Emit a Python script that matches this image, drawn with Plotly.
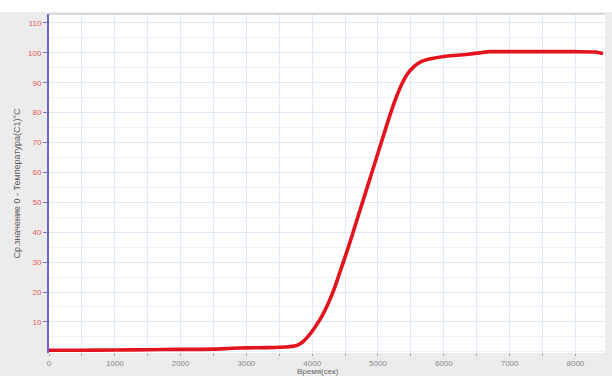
import plotly.graph_objects as go

# Temperature log: time in seconds, temperature in °C
time_s = [0, 500, 1000, 1500, 2000, 2500, 2800, 3000, 3300, 3600, 3750, 3850,
          3950, 4050, 4150, 4250, 4350, 4450, 4550, 4650, 4750, 4850, 4950,
          5050, 5150, 5250, 5350, 5450, 5550, 5650, 5800, 6000, 6200, 6400,
          6550, 6700, 7000, 7500, 8000, 8300, 8420]
temp_c = [0.5, 0.5, 0.6, 0.7, 0.8, 0.9, 1.2, 1.3, 1.4, 1.6, 2.0, 3.2,
          5.5, 8.5, 12.0, 16.5, 22.0, 28.5, 35.0, 42.0, 49.0, 56.0, 63.0,
          70.0, 77.0, 83.5, 89.0, 93.0, 95.5, 97.0, 98.0, 98.8, 99.2, 99.6,
          100.0, 100.4, 100.4, 100.4, 100.4, 100.3, 99.8]

x_ticks = [0, 1000, 2000, 3000, 4000, 5000, 6000, 7000, 8000]
y_ticks = [10, 20, 30, 40, 50, 60, 70, 80, 90, 100, 110]

W, H = 612, 376
ML, MR, MT, MB = 49, 7, 14, 23
plot_w = W - ML - MR
plot_h = H - MT - MB

fig = go.Figure()
fig.add_trace(go.Scatter(
    x=time_s, y=temp_c, mode="lines",
    line=dict(color="#e4141e", width=3.6, shape="spline", smoothing=0.6),
    hoverinfo="skip", showlegend=False,
))

grid_col = "#dfe9f5"
fig.update_layout(
    width=W, height=H,
    margin=dict(l=ML, r=MR, t=MT, b=MB, pad=0),
    paper_bgcolor="#ececec",
    plot_bgcolor="#ffffff",
    font=dict(family="Liberation Sans, Arial, sans-serif"),
    xaxis=dict(
        range=[0, 8450],
        tickvals=x_ticks,
        ticktext=[str(v) for v in x_ticks],
        tickfont=dict(size=8, color="#8a8a8a"),
        ticks="outside", ticklen=2, tickcolor="#9a9a9a",
        showgrid=True, gridcolor=grid_col, gridwidth=1,
        minor=dict(dtick=500, tick0=0, showgrid=True, gridcolor=grid_col,
                   ticks="outside", ticklen=2, tickcolor="#9a9a9a"),
        showline=False, zeroline=False,
    ),
    yaxis=dict(
        range=[-0.4, 113],
        tickvals=y_ticks,
        ticktext=[str(v) for v in y_ticks],
        tickfont=dict(size=8, color="#e45a5a"),
        ticks="outside", ticklen=4, tickcolor="#7a7ab8",
        showgrid=True, gridcolor=grid_col, gridwidth=1,
        minor=dict(dtick=5, tick0=0, showgrid=True, gridcolor="#eaf1f9"),
        showline=True, linecolor="#6b63d6", linewidth=2,
        zeroline=False,
        title=dict(text="Ср.значение 0 - Температура(С1)°С",
                   font=dict(size=9, color="#5a5a5a"), standoff=6),
    ),
    shapes=[
        # white band above the chart panel
        dict(type="rect", xref="paper", yref="paper", layer="below",
             x0=-ML / plot_w, x1=1 + MR / plot_w,
             y0=1 + 2 / plot_h, y1=1 + MT / plot_h,
             fillcolor="#ffffff", line=dict(width=0)),
        # top border of the plotting area
        dict(type="line", xref="paper", yref="paper",
             x0=0, x1=1, y0=1, y1=1,
             line=dict(color="#cfcfcf", width=1.5)),
    ],
    annotations=[
        dict(text="Время(сек)", xref="paper", yref="paper",
             x=(318 - ML) / plot_w, y=-(371.5 - MT - plot_h) / plot_h,
             xanchor="center", yanchor="middle", showarrow=False,
             font=dict(size=8, color="#6a6a6a")),
    ],
)

fig.write_html("out.html")
